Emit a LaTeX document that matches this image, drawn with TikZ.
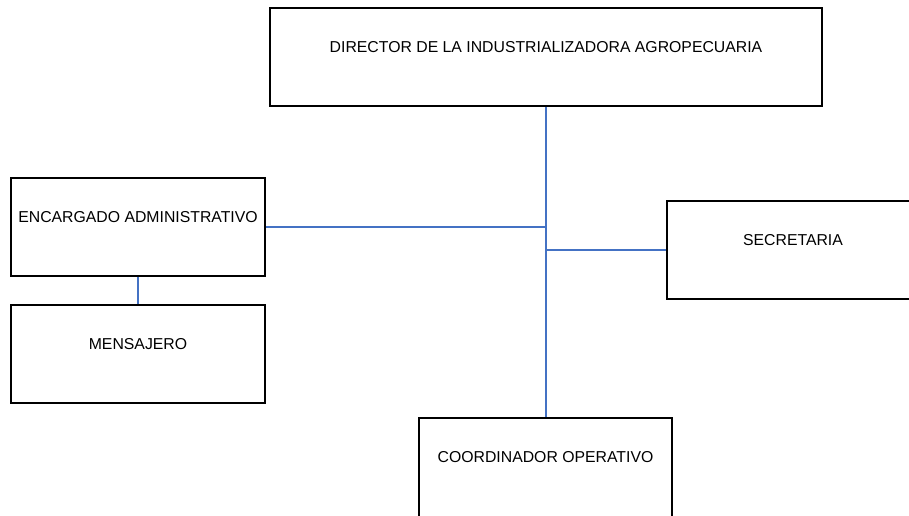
\documentclass[tikz,border=0pt]{standalone}
\usepackage{fontspec}
\setmainfont{Liberation Sans}
\usepackage{tikz}
\usetikzlibrary{positioning}
\usepackage{xcolor}
\definecolor{linkblue}{RGB}{68,114,196}

\begin{document}
\begin{tikzpicture}[x=1pt, y=-1pt, line width=1.6pt,
                box/.style={draw=black, rectangle, inner xsep=0pt, inner ysep=0pt,
                    text height=44pt, text depth=54pt, font=\fontsize{15.8}{18}\selectfont},
                link/.style={draw=linkblue, line width=2pt}]

                \useasboundingbox (0,0) rectangle (909,515);

                \node[box, minimum width=552pt] (dir) at (546,57) {DIRECTOR DE LA INDUSTRIALIZADORA AGROPECUARIA};
                \node[box, minimum width=254pt] (enc) at (138,227) {ENCARGADO ADMINISTRATIVO};
                \node[box, minimum width=254pt] (men) at (138,354) {MENSAJERO};
                \node[box, minimum width=252pt] (sec) at (793,250) {SECRETARIA};
                \node[box, minimum width=253pt, text depth=62pt] (coo) at (545.5,471) {COORDINADOR OPERATIVO};

                \draw[link] (dir.south) -- (dir.south |- coo.north);
                \draw[link] (enc.east) -- (enc.east -| dir.south);
                \draw[link] (sec.west -| dir.south) -- (sec.west);
                \draw[link] (enc.south) -- (men.north);

            \end{tikzpicture}
\end{document}
